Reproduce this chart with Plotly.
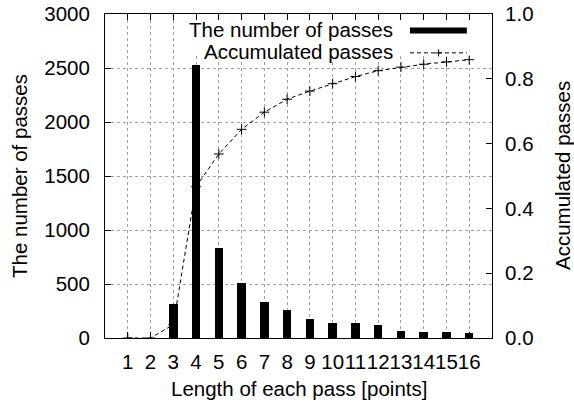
import plotly.graph_objects as go

lengths = list(range(1, 17))
tick_labels = [str(v) for v in lengths]
pass_counts = [0, 0, 317, 2528, 838, 509, 333, 256, 176, 141, 139, 120, 68, 58, 52, 43]
accumulated = [0, 0, 0.041, 0.467, 0.568, 0.644, 0.697, 0.737, 0.762, 0.785,
               0.807, 0.825, 0.836, 0.845, 0.852, 0.859]
legend_names = ["The number of passes", "Accumulated passes"]

FONT = "Liberation Sans, Arial, Helvetica, sans-serif"
FS = 20.5
GRID = "#a0a0a0"

fig = go.Figure()
fig.add_trace(go.Bar(x=lengths, y=pass_counts, width=0.37, marker=dict(color="black", line=dict(width=0)),
                     name=legend_names[0], showlegend=False))
fig.add_trace(go.Scatter(x=lengths, y=accumulated, yaxis="y2", mode="lines+markers",
                         line=dict(color="black", width=1, dash="4px,3px"),
                         marker=dict(symbol="cross-thin", size=7, line=dict(color="black", width=1)),
                         name=legend_names[1], showlegend=False))

fig.update_layout(
    template="none",
    width=574, height=407,
    margin=dict(l=105, r=82, t=14, b=69, pad=0, autoexpand=False),
    paper_bgcolor="white", plot_bgcolor="white",
    font=dict(family=FONT, size=FS, color="black"),
    showlegend=False,
    xaxis=dict(range=[0, 17], tickmode="array", tickvals=lengths, ticktext=tick_labels,
               tickangle=0, ticks="inside", ticklen=6, tickcolor="black", tickwidth=1,
               showline=True, linecolor="black", linewidth=1, mirror="ticks",
               showgrid=True, gridcolor=GRID, griddash="dot", gridwidth=1,
               zeroline=False, ticklabelstandoff=5, automargin=False),
    yaxis=dict(range=[0, 3000], tickmode="linear", tick0=0, dtick=500,
               ticks="inside", ticklen=6, tickcolor="black", tickwidth=1,
               showline=True, linecolor="black", linewidth=1, mirror=False,
               showgrid=True, gridcolor=GRID, griddash="dot", gridwidth=1,
               zeroline=False, ticklabelstandoff=10, automargin=False),
    yaxis2=dict(range=[0, 1], overlaying="y", side="right", tickmode="linear", tick0=0, dtick=0.2,
                tickformat=".1f", ticks="inside", ticklen=6, tickcolor="black", tickwidth=1,
                showline=True, linecolor="black", linewidth=1,
                showgrid=False, zeroline=False, ticklabelstandoff=8, automargin=False),
    bargap=0,
)

# key background (opaque box hiding the grid, leaving the top ticks visible)
fig.add_shape(type="rect", xref="paper", yref="paper", x0=0.2, x1=0.997, y0=0.872, y1=0.9815,
              fillcolor="white", line=dict(width=0), layer="above")

# titles
fig.add_annotation(text="Length of each pass [points]", xref="paper", yref="paper",
                   x=0.5, y=-50 / 324, xanchor="center", yanchor="middle", showarrow=False,
                   font=dict(size=FS))
fig.add_annotation(text="The number of passes", xref="paper", yref="paper",
                   x=-86 / 387, y=0.5, xanchor="center", yanchor="middle", textangle=-90,
                   showarrow=False, font=dict(size=FS))
fig.add_annotation(text="Accumulated passes", xref="paper", yref="paper",
                   x=457 / 387, y=0.5, xanchor="center", yanchor="middle", textangle=-90,
                   showarrow=False, font=dict(size=FS))

# key (gnuplot style: text left, sample right)
fig.add_annotation(text=legend_names[0], xref="paper", yref="paper", x=290 / 387, y=0.951,
                   xanchor="right", yanchor="middle", showarrow=False, font=dict(size=FS))
fig.add_annotation(text=legend_names[1], xref="paper", yref="paper", x=290 / 387, y=0.883,
                   xanchor="right", yanchor="middle", showarrow=False, font=dict(size=FS))
fig.add_shape(type="rect", xref="paper", yref="paper", x0=0.788, x1=0.935, y0=0.940, y1=0.958,
              fillcolor="black", line=dict(width=0), layer="above")
fig.add_shape(type="line", xref="paper", yref="paper", x0=0.788, x1=0.935, y0=0.880, y1=0.880,
              line=dict(color="black", width=1, dash="4px,3px"), layer="above")
fig.add_shape(type="line", xref="paper", yref="paper", x0=0.862, x1=0.862, y0=0.869, y1=0.891,
              line=dict(color="black", width=1), layer="above")
fig.add_shape(type="line", xref="paper", yref="paper", x0=0.853, x1=0.871, y0=0.880, y1=0.880,
              line=dict(color="black", width=1), layer="above")

fig.write_html("out.html", config={"displayModeBar": False},
               post_script="document.body.style.margin='0';document.body.style.overflow='hidden';")
